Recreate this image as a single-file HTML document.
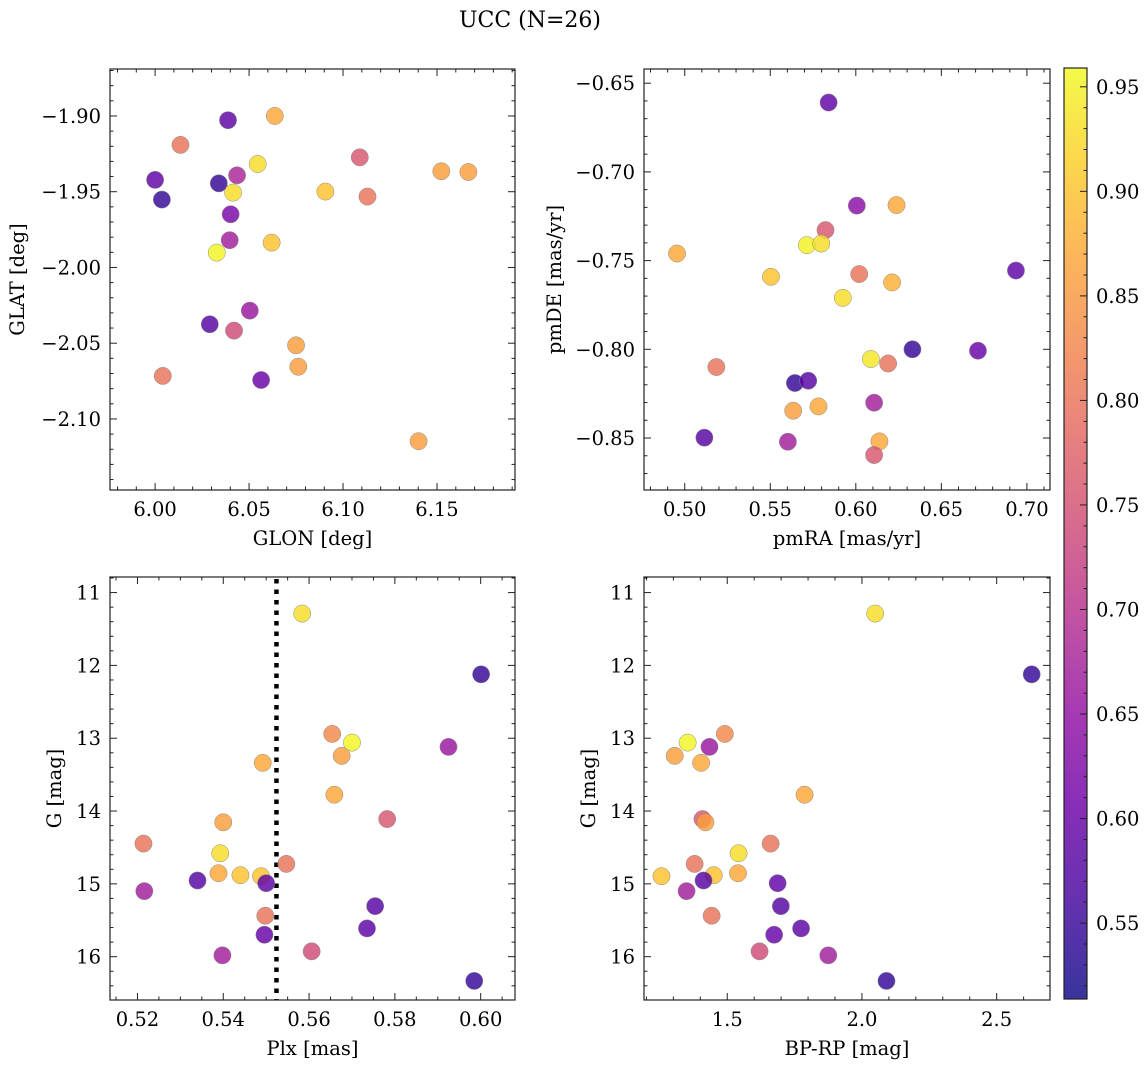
<!DOCTYPE html>
<html><head><meta charset="utf-8"><style>
html,body{margin:0;padding:0;background:#fff;}
svg{display:block;font-family:"DejaVu Serif","Liberation Serif",serif;}
</style></head><body>
<svg id="fig" width="1148" height="1067" viewBox="0 0 1148 1067" xmlns="http://www.w3.org/2000/svg">
<defs><linearGradient id="cbgrad" x1="0" y1="1" x2="0" y2="0">
<stop offset="0" stop-color="#0d0887"/><stop offset="0.1" stop-color="#41049d"/><stop offset="0.2" stop-color="#6a00a8"/><stop offset="0.3" stop-color="#8f0da4"/><stop offset="0.4" stop-color="#b12a90"/><stop offset="0.5" stop-color="#cc4778"/><stop offset="0.6" stop-color="#e16462"/><stop offset="0.7" stop-color="#f2844b"/><stop offset="0.8" stop-color="#fca636"/><stop offset="0.9" stop-color="#fcce25"/><stop offset="1" stop-color="#f0f921"/>
</linearGradient></defs>
<text x="530" y="27" font-size="22" text-anchor="middle">UCC (N=26)</text>
</svg>
<script>
const glon=[6.0388,6.0637,6.0135,6.1089,6.0546,6.1523,6.1667,6.0000,6.0436,6.0339,6.0036,6.0415,6.0906,6.1130,6.0402,6.0397,6.0620,6.0328,6.0504,6.0291,6.0420,6.0750,6.0762,6.0041,6.0564,6.1402];
const glat=[-1.9028,-1.900,-1.9191,-1.9273,-1.9317,-1.9365,-1.937,-1.9422,-1.9392,-1.9445,-1.9552,-1.9506,-1.9499,-1.9532,-1.9649,-1.982,-1.9836,-1.9902,-2.0285,-2.0375,-2.0417,-2.0514,-2.0655,-2.0716,-2.0743,-2.1147];
const col1=[0.59,0.87,0.80,0.76,0.93,0.86,0.86,0.59,0.68,0.545,0.545,0.93,0.90,0.80,0.62,0.67,0.90,0.955,0.66,0.58,0.74,0.86,0.86,0.80,0.60,0.86];
const pmra=[0.5841,0.6006,0.6238,0.5823,0.5714,0.5798,0.4955,0.5504,0.6020,0.6212,0.6936,0.5924,0.6331,0.6714,0.6088,0.6189,0.5185,0.5644,0.5722,0.5634,0.5782,0.6107,0.5115,0.5603,0.6138,0.6107];
const pmde=[-0.6609,-0.719,-0.7187,-0.7328,-0.7413,-0.7404,-0.746,-0.7591,-0.7576,-0.7623,-0.7556,-0.771,-0.800,-0.8008,-0.8055,-0.808,-0.810,-0.819,-0.8177,-0.8346,-0.8322,-0.8301,-0.8498,-0.8521,-0.8519,-0.8596];
const col2=[0.59,0.64,0.87,0.76,0.95,0.93,0.87,0.90,0.80,0.88,0.59,0.93,0.545,0.60,0.94,0.80,0.80,0.545,0.58,0.86,0.87,0.67,0.58,0.67,0.87,0.76];
const plx=[0.5584,0.6001,0.5654,0.5700,0.5925,0.5676,0.5492,0.5659,0.5782,0.5400,0.5214,0.5393,0.5547,0.5389,0.5440,0.5488,0.5340,0.5500,0.5216,0.5754,0.5498,0.5735,0.5496,0.5606,0.5398,0.5985];
const bprp=[2.049,2.630,1.491,1.353,1.434,1.305,1.403,1.787,1.408,1.419,1.661,1.542,1.379,1.540,1.450,1.256,1.412,1.687,1.349,1.699,1.442,1.774,1.674,1.620,1.875,2.091];
const gmag=[11.288,12.123,12.941,13.060,13.119,13.242,13.338,13.776,14.110,14.155,14.447,14.580,14.726,14.854,14.881,14.895,14.954,14.991,15.100,15.306,15.438,15.612,15.699,15.927,15.982,16.333];
const col34=[0.93,0.545,0.83,0.955,0.66,0.86,0.87,0.87,0.76,0.86,0.80,0.93,0.80,0.87,0.90,0.90,0.58,0.59,0.67,0.58,0.80,0.59,0.60,0.74,0.67,0.545];
const plxLine=[0.5524];
const cbTicks=[0.55,0.60,0.65,0.70,0.75,0.80,0.85,0.90,0.95];

const NS="http://www.w3.org/2000/svg";
const svg=document.getElementById('fig');
const FS=19.5;
function mk(tag,attrs,parent){const e=document.createElementNS(NS,tag);for(const k in attrs)e.setAttribute(k,attrs[k]);(parent||svg).appendChild(e);return e;}
const VMIN=0.5137,VMAX=0.959;
const stops=[[13,8,135],[65,4,157],[106,0,168],[143,13,164],[177,42,144],[204,71,120],[225,100,98],[242,132,75],[252,166,54],[252,206,37],[240,249,33]];
function plasma(v){let t=(v-VMIN)/(VMAX-VMIN);t=Math.max(0,Math.min(1,t))*10;const i=Math.min(9,Math.floor(t)),f=t-i;const a=stops[i],b=stops[i+1];return 'rgb('+[0,1,2].map(k=>Math.round(a[k]+(b[k]-a[k])*f)).join(',')+')';}
function fmt(v,d){const s=Math.abs(v).toFixed(d);return (v<0?'\u2212':'')+s;}

function panel(o){
  const g=mk('g',{});
  
  
  const X=v=>o.L+(v-o.x0)/(o.x1-o.x0)*(o.R-o.L);
  const Y=o.yinv?(v=>o.T+(v-o.y0)/(o.y1-o.y0)*(o.B-o.T)):(v=>o.B-(v-o.y0)/(o.y1-o.y0)*(o.B-o.T));
  if(o.vline){const l=mk('line',{x1:X(o.vline[0]),x2:X(o.vline[0]),y1:o.T+2,y2:o.B,stroke:'#000','stroke-width':4.5,'stroke-dasharray':'4.5 6'},g);
    
    }
  for(let i=0;i<o.xs.length;i++){
    const c=mk('circle',{cx:X(o.xs[i]),cy:Y(o.ys[i]),r:8.6,fill:plasma(o.cs[i]),'fill-opacity':0.82,stroke:'#888','stroke-width':0.5},g);
    
    
  }
  const fr=mk('rect',{x:o.L,y:o.T,width:o.R-o.L,height:o.B-o.T,fill:'none',stroke:'#222','stroke-width':1.2},g);
  
  
  const eps=1e-9;
  for(let v=Math.ceil(o.x0/o.xm-eps)*o.xm;v<=o.x1+eps;v+=o.xm){
    const px=X(v);if(px<o.L+0.5||px>o.R-0.5)continue;
    const maj=Math.abs(v/o.xM-Math.round(v/o.xM))<1e-6;const len=maj?7:3.5;
    mk('line',{x1:px,x2:px,y1:o.B,y2:o.B-len,stroke:'#222','stroke-width':1},g);
    mk('line',{x1:px,x2:px,y1:o.T,y2:o.T+len,stroke:'#222','stroke-width':1},g);
    if(maj){const t=mk('text',{x:px,y:o.B+26,'font-size':FS,'text-anchor':'middle'},g);t.textContent=fmt(v,o.xd);
      
      }
  }
  const lo=Math.min(o.y0,o.y1),hi=Math.max(o.y0,o.y1);
  for(let v=Math.ceil(lo/o.ym-eps)*o.ym;v<=hi+eps;v+=o.ym){
    const py=Y(v);if(py<o.T+0.5||py>o.B-0.5)continue;
    const maj=Math.abs(v/o.yM-Math.round(v/o.yM))<1e-6;const len=maj?7:3.5;
    mk('line',{x1:o.L,x2:o.L+len,y1:py,y2:py,stroke:'#222','stroke-width':1},g);
    mk('line',{x1:o.R,x2:o.R-len,y1:py,y2:py,stroke:'#222','stroke-width':1},g);
    if(maj){const t=mk('text',{x:o.L-9,y:py+7,'font-size':FS,'text-anchor':'end'},g);t.textContent=fmt(v,o.yd);
      
      }
  }
  const xl=mk('text',{x:(o.L+o.R)/2,y:o.B+55,'font-size':FS,'text-anchor':'middle'},g);xl.textContent=o.xlabel;
  
  
  const yx=o.ylx,yy=(o.T+o.B)/2;
  const yl=mk('text',{x:yx,y:yy,'font-size':FS,'text-anchor':'middle',transform:'rotate(-90 '+yx+' '+yy+')'},g);yl.textContent=o.ylabel;
  
  
}
panel({name:'glon-glat-panel',L:110,R:515,T:69,B:490,x0:5.976,x1:6.1915,y0:-2.1469,y1:-1.869,xs:glon,ys:glat,cs:col1,xm:0.01,xM:0.05,xd:2,ym:0.01,yM:0.05,yd:2,xlabel:'GLON [deg]',ylabel:'GLAT [deg]',ylx:24});
panel({name:'pm-panel',L:644,R:1050,T:69,B:490,x0:0.4762,x1:0.7135,y0:-0.8793,y1:-0.642,xs:pmra,ys:pmde,cs:col2,xm:0.01,xM:0.05,xd:2,ym:0.01,yM:0.05,yd:2,xlabel:'pmRA [mas/yr]',ylabel:'pmDE [mas/yr]',ylx:561});
panel({name:'plx-g-panel',L:110,R:515,T:577,B:1000,x0:0.5136,x1:0.608,y0:10.786,y1:16.595,yinv:true,xs:plx,ys:gmag,cs:col34,xm:0.005,xM:0.02,xd:2,ym:0.2,yM:1,yd:0,xlabel:'Plx [mas]',ylabel:'G [mag]',ylx:61,vline:plxLine});
panel({name:'cmd-panel',L:644,R:1050,T:577,B:1000,x0:1.191,x1:2.698,y0:10.786,y1:16.595,yinv:true,xs:bprp,ys:gmag,cs:col34,xm:0.1,xM:0.5,xd:1,ym:0.2,yM:1,yd:0,xlabel:'BP-RP [mag]',ylabel:'G [mag]',ylx:595});
(function(){
  const L=1064,R=1087,T=68,B=999;
  const g=mk('g',{});
  
  
  const CY=v=>B-(v-VMIN)/(VMAX-VMIN)*(B-T);
  mk('rect',{x:L,y:T,width:R-L,height:B-T,fill:'url(#cbgrad)','fill-opacity':0.82,stroke:'#222','stroke-width':1.2},g);
  for(let k=Math.ceil(VMIN*100);k<=Math.floor(VMAX*100);k++){
    const v=k/100,py=CY(v),maj=(k%5===0);
    mk('line',{x1:R,x2:R-(maj?7:3.5),y1:py,y2:py,stroke:'#222','stroke-width':1},g);
  }
  for(let i=0;i<cbTicks.length;i++){
    const t=mk('text',{x:R+9,y:CY(cbTicks[i])+7,'font-size':FS},g);t.textContent=cbTicks[i].toFixed(2);
    
    
  }
})();
</script>
</body></html>
